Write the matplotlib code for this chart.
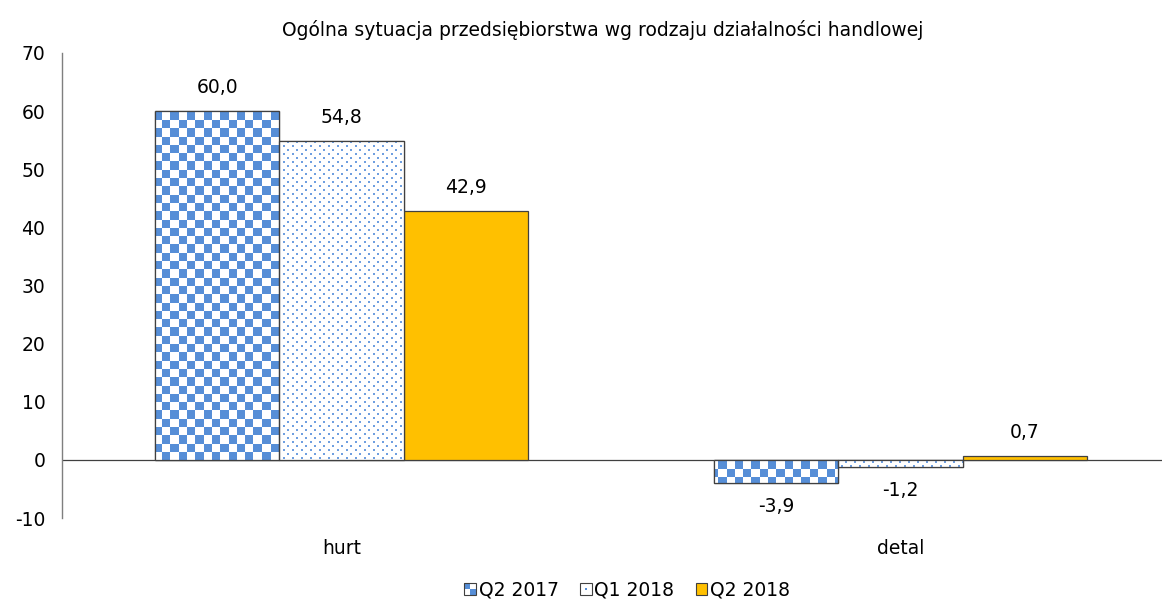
import numpy as np
import matplotlib
matplotlib.use("Agg")
import matplotlib.pyplot as plt
from matplotlib.patches import Rectangle
from matplotlib.legend_handler import HandlerBase

plt.rcParams["font.family"] = ["DejaVu Sans"]

categories = ["hurt", "detal"]
series_names = ["Q2 2017", "Q1 2018", "Q2 2018"]
values = {
    "Q2 2017": [60.0, -3.9],
    "Q1 2018": [54.8, -1.2],
    "Q2 2018": [42.9, 0.7],
}
title = "Ogólna sytuacja przedsiębiorstwa wg rodzaju działalności handlowej"
yticks = [-10, 0, 10, 20, 30, 40, 50, 60, 70]

BLUE = "#568ed7"
DOT = "#6f9fe0"
GOLD = "#ffc000"
FS = 13.5

W, H, DPI = 1162, 601, 100
fig = plt.figure(figsize=(W / DPI, H / DPI), dpi=DPI)

ax_left, ax_right, ax_top, ax_bottom = 62, 1162, 53, 518
ax = fig.add_axes([ax_left / W, (H - ax_bottom) / H,
                   (ax_right - ax_left) / W, (ax_bottom - ax_top) / H])

xmin = -0.5
px_per_unit = 559.0
xmax = xmin + (ax_right - ax_left) / px_per_unit
ax.set_xlim(xmin, xmax)
ax.set_ylim(-10, 70)

# pixel-level fill patterns, laid over the whole axes and clipped to each bar
aw, ah = ax_right - ax_left, ax_bottom - ax_top
yy, xx = np.mgrid[0:ah, 0:aw]
checker = ((xx // 8.3).astype(int) + (yy // 8.3).astype(int)) % 2 == 0
checker_img = np.ones((ah, aw, 3))
checker_img[checker] = matplotlib.colors.to_rgb(BLUE)

row = yy // 4
colpos = (xx + (row % 2) * 4) % 9
dots = (yy % 4 < 2) & (colpos < 2)
dots_img = np.ones((ah, aw, 3))
dots_img[dots] = matplotlib.colors.to_rgb(DOT)

patterns = {"Q2 2017": checker_img, "Q1 2018": dots_img, "Q2 2018": None}

n = len(series_names)
bar_w = 1 / 4.5
x = np.arange(len(categories))
for i, name in enumerate(series_names):
    offs = (i - (n - 1) / 2) * bar_w
    vals = values[name]
    img = patterns[name]
    face = GOLD if img is None else "white"
    edge = "#404040"
    bars = ax.bar(x + offs, vals, width=bar_w, color=face,
                  edgecolor=edge, linewidth=0.9, zorder=3)
    if img is not None:
        for b in bars:
            im = ax.imshow(img, extent=(xmin, xmax, -10, 70), aspect="auto",
                           interpolation="nearest", zorder=3.5)
            im.set_clip_path(b)
            outline = Rectangle(b.get_xy(), b.get_width(), b.get_height(),
                                fill=False, edgecolor="#404040",
                                linewidth=0.9, zorder=4)
            ax.add_patch(outline)
    for xi, v in zip(x + offs, vals):
        label = f"{v:.1f}".replace(".", ",")
        if v >= 0:
            ax.annotate(label, (xi, v), xytext=(0, 14),
                        textcoords="offset pixels",
                        ha="center", va="bottom", fontsize=FS)
        else:
            ax.annotate(label, (xi, v), xytext=(0, -14),
                        textcoords="offset pixels",
                        ha="center", va="top", fontsize=FS)

ax.axhline(0, color="#404040", linewidth=0.9, zorder=2)
ax.set_ylim(-10, 70)
ax.set_xlim(xmin, xmax)

for s in ["top", "right", "bottom"]:
    ax.spines[s].set_visible(False)
ax.spines["left"].set_color("#7f7f7f")
ax.spines["left"].set_linewidth(1.0)

ax.set_yticks(yticks)
ax.set_yticklabels([str(t) for t in yticks], fontsize=FS)
ax.tick_params(axis="y", length=0, pad=12)
ax.set_xticks(x)
ax.set_xticklabels(categories, fontsize=FS)
ax.tick_params(axis="x", length=0, pad=15)

fig.text(603 / W, 1 - 30 / H, title, ha="center", va="center", fontsize=FS)


class PatternHandler(HandlerBase):
    def __init__(self, kind):
        super().__init__()
        self.kind = kind

    def create_artists(self, legend, orig_handle, xdescent, ydescent,
                       width, height, fontsize, trans):
        s = min(width, height) * 0.85
        x0 = width - s - xdescent
        y0 = (height - s) / 2 - ydescent
        arts = []
        if self.kind == "checker":
            arts.append(Rectangle((x0, y0), s, s, facecolor="white",
                                  edgecolor="none", transform=trans))
            h = s / 2
            arts.append(Rectangle((x0, y0 + h), h, h, facecolor=BLUE,
                                  edgecolor="none", transform=trans))
            arts.append(Rectangle((x0 + h, y0), h, h, facecolor=BLUE,
                                  edgecolor="none", transform=trans))
            arts.append(Rectangle((x0, y0), s, s, fill=False,
                                  edgecolor="#404040", lw=0.8, transform=trans))
        elif self.kind == "dots":
            arts.append(Rectangle((x0, y0), s, s, facecolor="white",
                                  edgecolor="#404040", lw=0.8, transform=trans))
            d = s * 0.2
            arts.append(Rectangle((x0 + s / 2 - d / 2, y0 + s / 2 - d / 2), d, d,
                                  facecolor=BLUE, edgecolor="none",
                                  transform=trans))
        else:
            arts.append(Rectangle((x0, y0), s, s, facecolor=GOLD,
                                  edgecolor="#404040", lw=0.8, transform=trans))
        return arts


handles = [Rectangle((0, 0), 1, 1) for _ in series_names]
kinds = ["checker", "dots", "gold"]
leg = fig.legend(handles, series_names, loc="center",
                 bbox_to_anchor=(626 / W, 1 - 590 / H), ncol=3, frameon=False,
                 fontsize=FS, handlelength=0.75, handleheight=0.75,
                 handletextpad=0.15, columnspacing=1.0,
                 handler_map={h: PatternHandler(k) for h, k in zip(handles, kinds)})

fig.savefig("out.png", dpi=DPI)
